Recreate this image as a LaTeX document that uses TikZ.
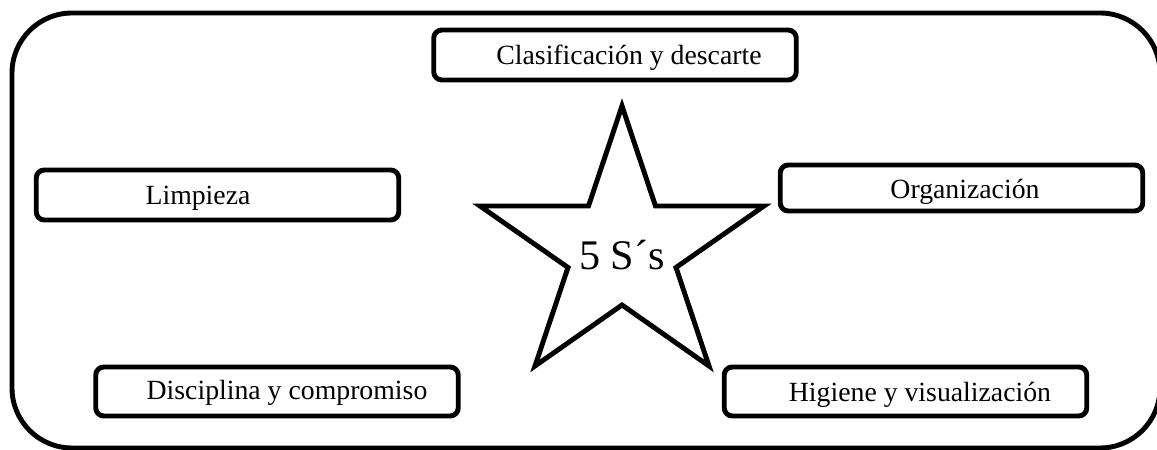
\documentclass[tikz,border=0pt]{standalone}
\usepackage{fontspec}
\setmainfont{Liberation Serif}
\usetikzlibrary{calc}

\tikzset{
  trazo/.style={line width=2.8pt},
  caja/.style={draw, trazo, rounded corners=1.6mm,
    minimum width=72.5mm, minimum height=9.8mm, inner sep=0pt},
  texto/.style={anchor=base, inner sep=0pt, font=\fontsize{15.8}{19}\selectfont},
}

\begin{document}
\begin{tikzpicture}[x=0.2mm, y=-0.2mm, line cap=round, line join=round]
  % --- Marco exterior (unidades = pixeles, y hacia abajo) ---
  \useasboundingbox (0,0) rectangle (1157,450);
  \clip (0,0) rectangle (1157,450);
  \draw[trazo, rounded corners=12mm] (12,13) rectangle (1160,448);

  % --- Estrella (puntas exteriores e interiores) ---
  \coordinate (E1) at (622,106);
  \coordinate (E2) at (655.5,206);
  \coordinate (E3) at (764,206);
  \coordinate (E4) at (676,267.5);
  \coordinate (E5) at (709,366);
  \coordinate (E6) at (622,305);
  \coordinate (E7) at (535,366);
  \coordinate (E8) at (568,267.5);
  \coordinate (E9) at (480,206);
  \coordinate (E10) at (588.5,206);
  \draw[trazo, line join=miter]
    (E1) -- (E2) -- (E3) -- (E4) -- (E5) -- (E6) -- (E7) -- (E8) -- (E9) -- (E10) -- cycle;
  \node[anchor=base, inner sep=0pt, font=\fontsize{24}{29}\selectfont] (cinco) at (622,270) {5 S´s};

  % --- Cajas ---
  \node[caja, minimum height=10mm] (clasif) at (615,55) {};
  \node[caja, minimum height=10mm] (limp) at (217.5,195) {};
  \node[caja, minimum height=9.2mm] (organ) at (961.5,188) {};
  \node[caja] (disc) at (277,391.5) {};
  \node[caja] (hig) at (905.5,391.5) {};

  % --- Textos ---
  \node[texto] (clasif-t) at (629,65) {Clasificación y descarte};
  \node[texto] (limp-t) at (198,205) {Limpieza};
  \node[texto] (organ-t) at (965,199) {Organización};
  \node[texto] (disc-t) at (287,400) {Disciplina y compromiso};
  \node[texto] (hig-t) at (920,402) {Higiene y visualización};
\end{tikzpicture}
\end{document}
